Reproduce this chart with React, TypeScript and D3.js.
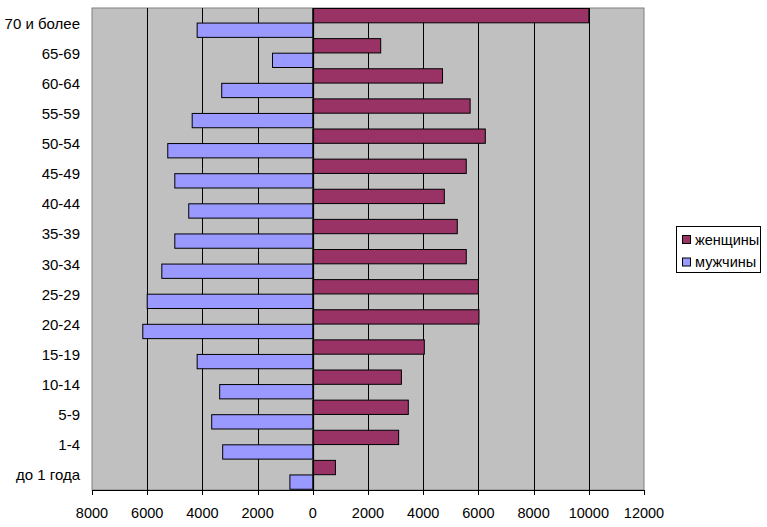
import React from "react";
import * as d3 from "d3";

const categories = ["до 1 года", "1-4", "5-9", "10-14", "15-19", "20-24", "25-29", "30-34", "35-39", "40-44", "45-49", "50-54", "55-59", "60-64", "65-69", "70 и более"];
const women = [820, 3110, 3460, 3210, 4040, 6020, 6000, 5560, 5235, 4765, 5560, 6250, 5700, 4700, 2460, 10000];
const men = [830, 3265, 3663, 3374, 4190, 6160, 6000, 5470, 5000, 4495, 5000, 5255, 4370, 3300, 1460, 4190];
const xTicks = [-8000, -6000, -4000, -2000, 0, 2000, 4000, 6000, 8000, 10000, 12000];
const seriesNames = ["женщины", "мужчины"];
const seriesColors = ["#993366", "#9999FF"];

export default function App() {
  const W = 767, H = 527;
  const left = 92, right = 644, top = 8, bottom = 490;
  const x = d3.scaleLinear().domain([-8000, 12000]).range([left, right]);
  const y = d3.scaleBand<string>().domain([...categories].reverse()).range([top, bottom]).paddingInner(0).paddingOuter(0);
  const bw = y.bandwidth();
  const barH = bw * 0.475;
  const font = "'Liberation Sans', Arial, sans-serif";
  return (
    <svg width={W} height={H} style={{ position: "absolute", left: 0, top: 0, background: "#fff" }} fontFamily={font}>
      <rect x={left} y={top} width={right - left} height={bottom - top} fill="#C0C0C0" stroke="#808080" strokeWidth={1} />
      {xTicks.filter(t => t !== -8000 && t !== 12000).map(t => (
        <line key={t} x1={Math.round(x(t)) + 0.5} x2={Math.round(x(t)) + 0.5} y1={top} y2={bottom} stroke="#000" strokeWidth={1} />
      ))}
      {categories.map((c, i) => {
        const y0 = y(c)!;
        return (
          <g key={c}>
            <rect x={x(0)} y={y0 + 0.5} width={x(women[i]) - x(0)} height={barH} fill={seriesColors[0]} stroke="#000" strokeWidth={1} />
            <rect x={x(-men[i])} y={y0 + bw * 0.5} width={x(0) - x(-men[i])} height={barH} fill={seriesColors[1]} stroke="#000" strokeWidth={1} />
          </g>
        );
      })}
      <line x1={Math.round(x(0)) + 0.5} x2={Math.round(x(0)) + 0.5} y1={top} y2={bottom} stroke="#000" strokeWidth={1.2} />
      <line x1={left} x2={right} y1={bottom + 0.5} y2={bottom + 0.5} stroke="#000" strokeWidth={1.2} />
      {xTicks.map(t => (
        <g key={t}>
          <line x1={Math.round(x(t)) + 0.5} x2={Math.round(x(t)) + 0.5} y1={bottom} y2={bottom + 5} stroke="#000" />
          <text x={x(t)} y={bottom + 23} fontSize={14.5} textAnchor="middle" dominantBaseline="central" fill="#000">{Math.abs(t)}</text>
        </g>
      ))}
      {categories.map(c => (
        <text key={c} x={80} y={y(c)! + bw / 2} fontSize={15} textAnchor="end" dominantBaseline="central" fill="#000">{c}</text>
      ))}
      <rect x={676.5} y={226.5} width={84} height={46} fill="#fff" stroke="#000" strokeWidth={1} />
      {seriesNames.map((s, i) => (
        <g key={s}>
          <rect x={682.5} y={235.5 + i * 22.5} width={8} height={8} fill={seriesColors[i]} stroke="#000" strokeWidth={1} />
          <text x={695} y={239.5 + i * 22.5} fontSize={14.5} dominantBaseline="central" fill="#000">{s}</text>
        </g>
      ))}
    </svg>
  );
}
